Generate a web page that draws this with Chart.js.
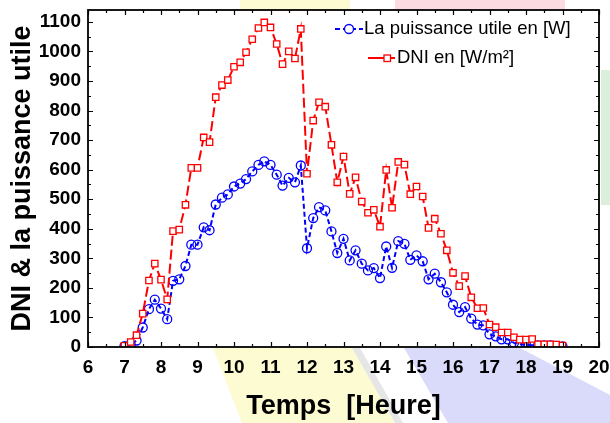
<!DOCTYPE html>
<html>
<head>
<meta charset="utf-8">
<script src="https://cdn.jsdelivr.net/npm/chart.js@4.4.1/dist/chart.umd.min.js"></script>
<style>
  html, body { margin: 0; padding: 0; background: #fff; }
  #chart { display: block; }
</style>
</head>
<body>
<canvas id="chart" width="610" height="423"></canvas>
<script>
// Heures de mesure (pas de 10 min)
const heures = [
    7.00, 7.17, 7.33, 7.50, 7.67, 7.83, 8.00, 8.17, 8.33, 8.50, 8.67, 8.83,
    9.00, 9.17, 9.33, 9.50, 9.67, 9.83, 10.00, 10.17, 10.33, 10.50, 10.67, 10.83,
    11.00, 11.17, 11.33, 11.50, 11.67, 11.83, 12.00, 12.17, 12.33, 12.50, 12.67, 12.83,
    13.00, 13.17, 13.33, 13.50, 13.67, 13.83, 14.00, 14.17, 14.33, 14.50, 14.67, 14.83,
    15.00, 15.17, 15.33, 15.50, 15.67, 15.83, 16.00, 16.17, 16.33, 16.50, 16.67, 16.83,
    17.00, 17.17, 17.33, 17.50, 17.67, 17.83, 18.00, 18.17, 18.33, 18.50, 18.67, 18.83,
    19.00
];

// La puissance utile en [W]
const puissance = [
    3, 8, 22, 66, 128, 160, 130, 94, 224, 229, 274, 346,
    346, 405, 395, 482, 505, 516, 543, 553, 568, 594, 616, 628,
    616, 583, 546, 572, 557, 614, 334, 436, 473, 462, 391, 318,
    366, 293, 327, 282, 259, 267, 233, 340, 268, 358, 349, 295,
    310, 290, 229, 248, 219, 185, 143, 118, 135, 96, 76, 73,
    43, 36, 26, 26, 14, 9, 7, 6, 5, 5, 5, 4,
    2
];

// DNI en [W/m²]
const dni = [
    4, 17, 40, 113, 225, 282, 228, 161, 392, 397, 481, 606,
    606, 709, 693, 845, 886, 903, 948, 963, 997, 1041, 1079, 1098,
    1081, 1025, 957, 1000, 976, 1076, 586, 766, 828, 813, 684, 557,
    644, 518, 574, 492, 454, 464, 407, 599, 471, 626, 617, 517,
    543, 509, 403, 434, 383, 327, 251, 206, 240, 168, 131, 132,
    76, 67, 49, 49, 33, 25, 25, 27, 9, 9, 9, 8,
    5
];

const legendLabels = ['La puissance utile en [W]', 'DNI en [W/m\u00b2]'];
const xTitle = 'Temps  [Heure]';
const yTitle = 'DNI & la puissance utile';

const BLUE = '#0000ff';
const RED = '#ff0000';
const FONT = 'Arial, "Liberation Sans", sans-serif';

function toPoints(values) {
    return heures.map((h, i) => ({ x: h, y: values[i] }));
}

// fond (filigrane) + cadre, petits traits et legende
const cadrePlugin = {
    id: 'cadre',
    beforeDraw(chart) {
        const ctx = chart.ctx;
        const a = chart.chartArea;
        ctx.save();
        ctx.fillStyle = '#ffffff';
        ctx.fillRect(0, 0, chart.width, chart.height);

        function poly(color, pts) {
            ctx.fillStyle = color;
            ctx.beginPath();
            ctx.moveTo(pts[0][0], pts[0][1]);
            for (let i = 1; i < pts.length; i++) ctx.lineTo(pts[i][0], pts[i][1]);
            ctx.closePath();
            ctx.fill();
        }
        poly('#fdfbd2', [[213, 348], [352, 348], [395, 423], [242, 423]]);
        poly('#e6e6e6', [[352, 348], [360, 348], [403, 423], [395, 423]]);
        poly('#dadafb', [[404, 348], [520, 348], [610, 395], [610, 423], [448, 423]]);
        poly('#fdfbd2', [[240, 0], [350, 0], [350, 9], [240, 9]]);
        poly('#fbdae1', [[395, 0], [565, 0], [565, 9], [395, 9]]);
        poly('#dcefdc', [[601, 70], [610, 70], [610, 205], [601, 205]]);

        ctx.fillStyle = '#ffffff';
        ctx.fillRect(a.left, a.top, a.right - a.left, a.bottom - a.top);
        ctx.restore();
    },
    afterDraw(chart) {
        const ctx = chart.ctx;
        const a = chart.chartArea;
        const x = chart.scales.x;
        const y = chart.scales.y;
        ctx.save();
        ctx.strokeStyle = '#000';
        ctx.lineWidth = 1.2;
        ctx.beginPath();
        for (let h = 6; h <= 20; h += 0.5) {
            const px = Math.round(x.getPixelForValue(h)) + 0.5;
            const len = h % 1 === 0 ? 5 : 3;
            ctx.moveTo(px, a.bottom); ctx.lineTo(px, a.bottom - len);
            ctx.moveTo(px, a.top); ctx.lineTo(px, a.top + len);
        }
        for (let v = 0; v <= 1100; v += 50) {
            const py = Math.round(y.getPixelForValue(v)) + 0.5;
            const len = v % 100 === 0 ? 5 : 3;
            ctx.moveTo(a.left, py); ctx.lineTo(a.left + len, py);
            ctx.moveTo(a.right, py); ctx.lineTo(a.right - len, py);
        }
        ctx.stroke();

        ctx.lineWidth = 1.8;
        ctx.strokeRect(a.left, a.top, a.right - a.left, a.bottom - a.top);

        // legende
        ctx.font = '18.5px ' + FONT;
        ctx.textBaseline = 'middle';
        ctx.textAlign = 'left';

        ctx.strokeStyle = BLUE;
        ctx.lineWidth = 2;
        ctx.setLineDash([5, 3]);
        ctx.beginPath();
        ctx.moveTo(335, 29); ctx.lineTo(363, 29);
        ctx.stroke();
        ctx.setLineDash([]);
        ctx.beginPath();
        ctx.arc(349, 29, 4.5, 0, Math.PI * 2);
        ctx.fillStyle = '#fff';
        ctx.fill();
        ctx.lineWidth = 1.3;
        ctx.stroke();
        ctx.fillStyle = '#000';
        ctx.fillText(legendLabels[0], 364, 29);

        ctx.strokeStyle = RED;
        ctx.lineWidth = 2;
        ctx.beginPath();
        ctx.moveTo(368, 58); ctx.lineTo(395, 58);
        ctx.stroke();
        ctx.fillStyle = '#fff';
        ctx.fillRect(384, 55, 6.5, 6.5);
        ctx.lineWidth = 1.3;
        ctx.strokeRect(384, 55, 6.5, 6.5);
        ctx.fillStyle = '#000';
        ctx.fillText(legendLabels[1], 397, 58);
        ctx.restore();
    }
};

const ctx = document.getElementById('chart');
const chart = new Chart(ctx, {
    type: 'line',
    data: {
        datasets: [{
            label: legendLabels[1],
            data: toPoints(dni),
            borderColor: RED,
            backgroundColor: '#ffffff',
            borderWidth: 2,
            borderDash: [10, 4],
            pointStyle: 'rect',
            pointRadius: 4.5,
            pointBorderWidth: 1.3,
            pointBackgroundColor: '#ffffff',
            pointBorderColor: RED,
            tension: 0,
            order: 0
        }, {
            label: legendLabels[0],
            data: toPoints(puissance),
            borderColor: BLUE,
            backgroundColor: 'rgba(0,0,0,0)',
            borderWidth: 2,
            borderDash: [5, 3],
            pointStyle: 'circle',
            pointRadius: 4.5,
            pointBorderWidth: 1.3,
            pointBackgroundColor: 'rgba(0,0,0,0)',
            pointBorderColor: BLUE,
            tension: 0,
            order: 1
        }]
    },
    options: {
        responsive: false,
        animation: false,
        layout: { padding: { top: 10, right: 11, left: 0, bottom: 0 } },
        plugins: {
            legend: { display: false },
            tooltip: { enabled: false }
        },
        scales: {
            x: {
                type: 'linear',
                min: 6,
                max: 20,
                grid: { display: false, drawTicks: false },
                border: { display: false },
                ticks: {
                    stepSize: 1,
                    color: '#000',
                    padding: 9,
                    maxRotation: 0,
                    callback: v => String(v),
                    font: { family: FONT, size: 19, weight: 'bold' }
                },
                title: {
                    display: true,
                    text: xTitle,
                    color: '#000',
                    padding: { top: 0, bottom: 0 },
                    font: { family: FONT, size: 27, weight: 'bold' }
                },
                afterFit(scale) {
                    scale.height = 76;
                    scale.paddingLeft = 0;
                    scale.paddingRight = 0;
                }
            },
            y: {
                min: 0,
                max: 1140,
                grid: { display: false, drawTicks: false },
                border: { display: false },
                ticks: {
                    stepSize: 100,
                    includeBounds: false,
                    color: '#000',
                    padding: 7,
                    callback: v => String(v),
                    font: { family: FONT, size: 19, weight: 'bold' }
                },
                title: {
                    display: true,
                    text: yTitle,
                    color: '#000',
                    padding: { top: 6, bottom: 0 },
                    font: { family: FONT, size: 27, weight: 'bold' }
                },
                afterFit(scale) {
                    scale.width = 88;
                    scale.paddingTop = 0;
                    scale.paddingBottom = 0;
                }
            }
        }
    },
    plugins: [cadrePlugin]
});
</script>
</body>
</html>
